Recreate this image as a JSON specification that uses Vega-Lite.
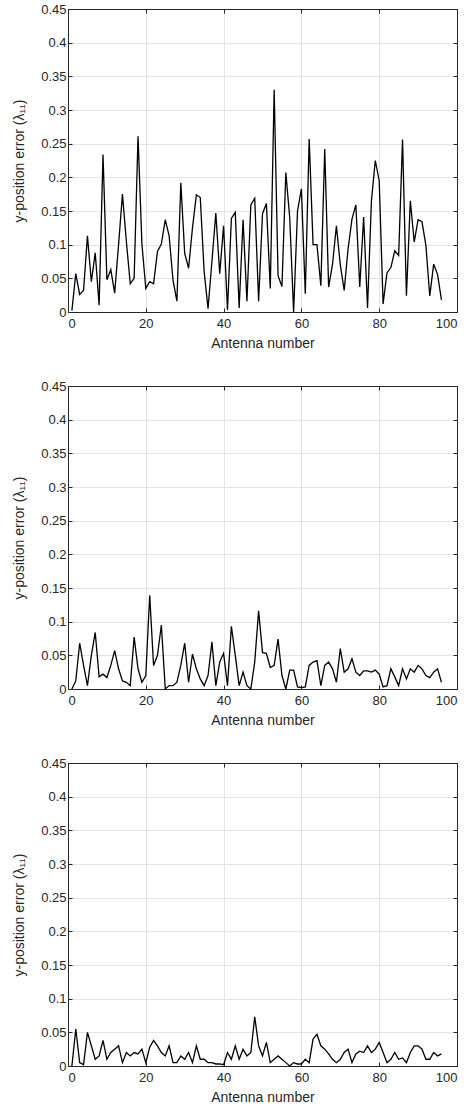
{
  "$schema": "https://vega.github.io/schema/vega-lite/v6.json",
  "padding": {"top": 3, "left": 12, "right": 2, "bottom": 2},
  "spacing": 30,
  "config": {
    "font": "Liberation Sans",
    "view": {"stroke": null},
    "axis": {
      "labelFont": "Liberation Sans",
      "titleFont": "Liberation Sans",
      "labelFontSize": 13,
      "titleFontSize": 14,
      "labelColor": "#262626",
      "titleColor": "#262626",
      "titleFontWeight": "normal",
      "domainColor": "#262626",
      "tickColor": "#262626",
      "gridColor": "#e3e3e3",
      "gridOpacity": 1,
      "tickSize": -4
    },
    "axisX": {"labelPadding": 9, "titlePadding": 6},
    "axisY": {"labelPadding": 6, "titlePadding": 14}
  },
  "datasets": {
    "d": [
      {"p":1,"x":1,"y":0.002},{"p":1,"x":2,"y":0.057},{"p":1,"x":3,"y":0.026},{"p":1,"x":4,"y":0.032},{"p":1,"x":5,"y":0.113},{"p":1,"x":6,"y":0.045},{"p":1,"x":7,"y":0.088},{"p":1,"x":8,"y":0.010},{"p":1,"x":9,"y":0.234},{"p":1,"x":10,"y":0.048},
      {"p":1,"x":11,"y":0.063},{"p":1,"x":12,"y":0.028},{"p":1,"x":13,"y":0.1},{"p":1,"x":14,"y":0.175},{"p":1,"x":15,"y":0.105},{"p":1,"x":16,"y":0.042},{"p":1,"x":17,"y":0.05},{"p":1,"x":18,"y":0.261},{"p":1,"x":19,"y":0.101},{"p":1,"x":20,"y":0.035},
      {"p":1,"x":21,"y":0.045},{"p":1,"x":22,"y":0.042},{"p":1,"x":23,"y":0.09},{"p":1,"x":24,"y":0.101},{"p":1,"x":25,"y":0.137},{"p":1,"x":26,"y":0.113},{"p":1,"x":27,"y":0.047},{"p":1,"x":28,"y":0.016},{"p":1,"x":29,"y":0.192},{"p":1,"x":30,"y":0.087},
      {"p":1,"x":31,"y":0.065},{"p":1,"x":32,"y":0.125},{"p":1,"x":33,"y":0.174},{"p":1,"x":34,"y":0.17},{"p":1,"x":35,"y":0.06},{"p":1,"x":36,"y":0.005},{"p":1,"x":37,"y":0.075},{"p":1,"x":38,"y":0.147},{"p":1,"x":39,"y":0.057},{"p":1,"x":40,"y":0.128},
      {"p":1,"x":41,"y":0.003},{"p":1,"x":42,"y":0.139},{"p":1,"x":43,"y":0.148},{"p":1,"x":44,"y":0.006},{"p":1,"x":45,"y":0.137},{"p":1,"x":46,"y":0.016},{"p":1,"x":47,"y":0.159},{"p":1,"x":48,"y":0.169},{"p":1,"x":49,"y":0.016},{"p":1,"x":50,"y":0.146},
      {"p":1,"x":51,"y":0.161},{"p":1,"x":52,"y":0.035},{"p":1,"x":53,"y":0.33},{"p":1,"x":54,"y":0.054},{"p":1,"x":55,"y":0.038},{"p":1,"x":56,"y":0.207},{"p":1,"x":57,"y":0.14},{"p":1,"x":58,"y":0.0},{"p":1,"x":59,"y":0.15},{"p":1,"x":60,"y":0.183},
      {"p":1,"x":61,"y":0.027},{"p":1,"x":62,"y":0.257},{"p":1,"x":63,"y":0.1},{"p":1,"x":64,"y":0.1},{"p":1,"x":65,"y":0.039},{"p":1,"x":66,"y":0.242},{"p":1,"x":67,"y":0.037},{"p":1,"x":68,"y":0.071},{"p":1,"x":69,"y":0.128},{"p":1,"x":70,"y":0.07},
      {"p":1,"x":71,"y":0.032},{"p":1,"x":72,"y":0.094},{"p":1,"x":73,"y":0.138},{"p":1,"x":74,"y":0.159},{"p":1,"x":75,"y":0.037},{"p":1,"x":76,"y":0.141},{"p":1,"x":77,"y":0.006},{"p":1,"x":78,"y":0.165},{"p":1,"x":79,"y":0.225},{"p":1,"x":80,"y":0.195},
      {"p":1,"x":81,"y":0.012},{"p":1,"x":82,"y":0.058},{"p":1,"x":83,"y":0.066},{"p":1,"x":84,"y":0.091},{"p":1,"x":85,"y":0.084},{"p":1,"x":86,"y":0.256},{"p":1,"x":87,"y":0.024},{"p":1,"x":88,"y":0.165},{"p":1,"x":89,"y":0.104},{"p":1,"x":90,"y":0.137},
      {"p":1,"x":91,"y":0.134},{"p":1,"x":92,"y":0.099},{"p":1,"x":93,"y":0.024},{"p":1,"x":94,"y":0.071},{"p":1,"x":95,"y":0.056},{"p":1,"x":96,"y":0.018},

      {"p":2,"x":1,"y":0.0},{"p":2,"x":2,"y":0.012},{"p":2,"x":3,"y":0.068},{"p":2,"x":4,"y":0.035},{"p":2,"x":5,"y":0.005},{"p":2,"x":6,"y":0.05},{"p":2,"x":7,"y":0.084},{"p":2,"x":8,"y":0.018},{"p":2,"x":9,"y":0.022},{"p":2,"x":10,"y":0.017},
      {"p":2,"x":11,"y":0.035},{"p":2,"x":12,"y":0.057},{"p":2,"x":13,"y":0.03},{"p":2,"x":14,"y":0.012},{"p":2,"x":15,"y":0.01},{"p":2,"x":16,"y":0.005},{"p":2,"x":17,"y":0.077},{"p":2,"x":18,"y":0.03},{"p":2,"x":19,"y":0.01},{"p":2,"x":20,"y":0.02},
      {"p":2,"x":21,"y":0.139},{"p":2,"x":22,"y":0.035},{"p":2,"x":23,"y":0.05},{"p":2,"x":24,"y":0.095},{"p":2,"x":25,"y":0.0},{"p":2,"x":26,"y":0.005},{"p":2,"x":27,"y":0.005},{"p":2,"x":28,"y":0.01},{"p":2,"x":29,"y":0.035},{"p":2,"x":30,"y":0.068},
      {"p":2,"x":31,"y":0.01},{"p":2,"x":32,"y":0.052},{"p":2,"x":33,"y":0.03},{"p":2,"x":34,"y":0.015},{"p":2,"x":35,"y":0.005},{"p":2,"x":36,"y":0.02},{"p":2,"x":37,"y":0.07},{"p":2,"x":38,"y":0.005},{"p":2,"x":39,"y":0.04},{"p":2,"x":40,"y":0.053},
      {"p":2,"x":41,"y":0.005},{"p":2,"x":42,"y":0.093},{"p":2,"x":43,"y":0.05},{"p":2,"x":44,"y":0.005},{"p":2,"x":45,"y":0.025},{"p":2,"x":46,"y":0.005},{"p":2,"x":47,"y":0.0},{"p":2,"x":48,"y":0.04},{"p":2,"x":49,"y":0.116},{"p":2,"x":50,"y":0.054},
      {"p":2,"x":51,"y":0.053},{"p":2,"x":52,"y":0.032},{"p":2,"x":53,"y":0.035},{"p":2,"x":54,"y":0.074},{"p":2,"x":55,"y":0.02},{"p":2,"x":56,"y":0.0},{"p":2,"x":57,"y":0.028},{"p":2,"x":58,"y":0.028},{"p":2,"x":59,"y":0.003},{"p":2,"x":60,"y":0.002},
      {"p":2,"x":61,"y":0.003},{"p":2,"x":62,"y":0.035},{"p":2,"x":63,"y":0.04},{"p":2,"x":64,"y":0.042},{"p":2,"x":65,"y":0.005},{"p":2,"x":66,"y":0.035},{"p":2,"x":67,"y":0.04},{"p":2,"x":68,"y":0.03},{"p":2,"x":69,"y":0.01},{"p":2,"x":70,"y":0.06},
      {"p":2,"x":71,"y":0.025},{"p":2,"x":72,"y":0.03},{"p":2,"x":73,"y":0.045},{"p":2,"x":74,"y":0.025},{"p":2,"x":75,"y":0.02},{"p":2,"x":76,"y":0.027},{"p":2,"x":77,"y":0.027},{"p":2,"x":78,"y":0.025},{"p":2,"x":79,"y":0.028},{"p":2,"x":80,"y":0.022},
      {"p":2,"x":81,"y":0.003},{"p":2,"x":82,"y":0.005},{"p":2,"x":83,"y":0.03},{"p":2,"x":84,"y":0.018},{"p":2,"x":85,"y":0.005},{"p":2,"x":86,"y":0.03},{"p":2,"x":87,"y":0.015},{"p":2,"x":88,"y":0.03},{"p":2,"x":89,"y":0.025},{"p":2,"x":90,"y":0.035},
      {"p":2,"x":91,"y":0.03},{"p":2,"x":92,"y":0.02},{"p":2,"x":93,"y":0.017},{"p":2,"x":94,"y":0.025},{"p":2,"x":95,"y":0.03},{"p":2,"x":96,"y":0.01},

      {"p":3,"x":1,"y":0.0},{"p":3,"x":2,"y":0.055},{"p":3,"x":3,"y":0.005},{"p":3,"x":4,"y":0.002},{"p":3,"x":5,"y":0.05},{"p":3,"x":6,"y":0.03},{"p":3,"x":7,"y":0.01},{"p":3,"x":8,"y":0.015},{"p":3,"x":9,"y":0.038},{"p":3,"x":10,"y":0.01},
      {"p":3,"x":11,"y":0.02},{"p":3,"x":12,"y":0.025},{"p":3,"x":13,"y":0.03},{"p":3,"x":14,"y":0.005},{"p":3,"x":15,"y":0.02},{"p":3,"x":16,"y":0.015},{"p":3,"x":17,"y":0.02},{"p":3,"x":18,"y":0.018},{"p":3,"x":19,"y":0.025},{"p":3,"x":20,"y":0.005},
      {"p":3,"x":21,"y":0.028},{"p":3,"x":22,"y":0.038},{"p":3,"x":23,"y":0.03},{"p":3,"x":24,"y":0.02},{"p":3,"x":25,"y":0.015},{"p":3,"x":26,"y":0.03},{"p":3,"x":27,"y":0.005},{"p":3,"x":28,"y":0.005},{"p":3,"x":29,"y":0.015},{"p":3,"x":30,"y":0.01},
      {"p":3,"x":31,"y":0.02},{"p":3,"x":32,"y":0.005},{"p":3,"x":33,"y":0.03},{"p":3,"x":34,"y":0.01},{"p":3,"x":35,"y":0.01},{"p":3,"x":36,"y":0.005},{"p":3,"x":37,"y":0.005},{"p":3,"x":38,"y":0.003},{"p":3,"x":39,"y":0.003},{"p":3,"x":40,"y":0.002},
      {"p":3,"x":41,"y":0.02},{"p":3,"x":42,"y":0.01},{"p":3,"x":43,"y":0.03},{"p":3,"x":44,"y":0.01},{"p":3,"x":45,"y":0.025},{"p":3,"x":46,"y":0.015},{"p":3,"x":47,"y":0.02},{"p":3,"x":48,"y":0.073},{"p":3,"x":49,"y":0.03},{"p":3,"x":50,"y":0.015},
      {"p":3,"x":51,"y":0.035},{"p":3,"x":52,"y":0.005},{"p":3,"x":53,"y":0.01},{"p":3,"x":54,"y":0.015},{"p":3,"x":55,"y":0.01},{"p":3,"x":56,"y":0.005},{"p":3,"x":57,"y":0.0},{"p":3,"x":58,"y":0.005},{"p":3,"x":59,"y":0.003},{"p":3,"x":60,"y":0.003},
      {"p":3,"x":61,"y":0.01},{"p":3,"x":62,"y":0.005},{"p":3,"x":63,"y":0.04},{"p":3,"x":64,"y":0.047},{"p":3,"x":65,"y":0.03},{"p":3,"x":66,"y":0.025},{"p":3,"x":67,"y":0.018},{"p":3,"x":68,"y":0.01},{"p":3,"x":69,"y":0.005},{"p":3,"x":70,"y":0.01},
      {"p":3,"x":71,"y":0.02},{"p":3,"x":72,"y":0.025},{"p":3,"x":73,"y":0.005},{"p":3,"x":74,"y":0.018},{"p":3,"x":75,"y":0.022},{"p":3,"x":76,"y":0.02},{"p":3,"x":77,"y":0.03},{"p":3,"x":78,"y":0.02},{"p":3,"x":79,"y":0.025},{"p":3,"x":80,"y":0.035},
      {"p":3,"x":81,"y":0.02},{"p":3,"x":82,"y":0.005},{"p":3,"x":83,"y":0.01},{"p":3,"x":84,"y":0.02},{"p":3,"x":85,"y":0.01},{"p":3,"x":86,"y":0.012},{"p":3,"x":87,"y":0.005},{"p":3,"x":88,"y":0.02},{"p":3,"x":89,"y":0.03},{"p":3,"x":90,"y":0.03},
      {"p":3,"x":91,"y":0.025},{"p":3,"x":92,"y":0.01},{"p":3,"x":93,"y":0.01},{"p":3,"x":94,"y":0.02},{"p":3,"x":95,"y":0.015},{"p":3,"x":96,"y":0.018}
    ]
  },
  "data": {"name": "d"},
  "vconcat": [
    {
      "width": 389, "height": 303,
      "transform": [{"filter": "datum.p == 1"}],
      "layer": [
        {
          "mark": {"type": "line", "color": "black", "strokeWidth": 1.3},
          "encoding": {
            "x": {"field": "x", "type": "quantitative", "scale": {"domain": [0, 100], "nice": false}, "axis": {"values": [0,20,40,60,80,100], "title": "Antenna number"}},
            "y": {"field": "y", "type": "quantitative", "scale": {"domain": [0, 0.45], "nice": false}, "axis": {"values": [0,0.05,0.1,0.15,0.2,0.25,0.3,0.35,0.4,0.45], "format": "~g", "title": "y-position error (λ₁₁)"}}
          }
        },
        {
          "mark": {"type": "line", "opacity": 0},
          "encoding": {
            "x": {"field": "x", "type": "quantitative", "axis": {"orient": "top", "values": [0,20,40,60,80,100], "labels": false, "grid": false, "title": null}},
            "y": {"field": "y", "type": "quantitative", "axis": {"orient": "right", "values": [0,0.05,0.1,0.15,0.2,0.25,0.3,0.35,0.4,0.45], "labels": false, "grid": false, "title": null}}
          }
        }
      ],
      "resolve": {"axis": {"x": "independent", "y": "independent"}}
    },
    {
      "width": 389, "height": 303,
      "transform": [{"filter": "datum.p == 2"}],
      "layer": [
        {
          "mark": {"type": "line", "color": "black", "strokeWidth": 1.3},
          "encoding": {
            "x": {"field": "x", "type": "quantitative", "scale": {"domain": [0, 100], "nice": false}, "axis": {"values": [0,20,40,60,80,100], "title": "Antenna number"}},
            "y": {"field": "y", "type": "quantitative", "scale": {"domain": [0, 0.45], "nice": false}, "axis": {"values": [0,0.05,0.1,0.15,0.2,0.25,0.3,0.35,0.4,0.45], "format": "~g", "title": "y-position error (λ₁₁)"}}
          }
        },
        {
          "mark": {"type": "line", "opacity": 0},
          "encoding": {
            "x": {"field": "x", "type": "quantitative", "axis": {"orient": "top", "values": [0,20,40,60,80,100], "labels": false, "grid": false, "title": null}},
            "y": {"field": "y", "type": "quantitative", "axis": {"orient": "right", "values": [0,0.05,0.1,0.15,0.2,0.25,0.3,0.35,0.4,0.45], "labels": false, "grid": false, "title": null}}
          }
        }
      ],
      "resolve": {"axis": {"x": "independent", "y": "independent"}}
    },
    {
      "width": 389, "height": 303,
      "transform": [{"filter": "datum.p == 3"}],
      "layer": [
        {
          "mark": {"type": "line", "color": "black", "strokeWidth": 1.3},
          "encoding": {
            "x": {"field": "x", "type": "quantitative", "scale": {"domain": [0, 100], "nice": false}, "axis": {"values": [0,20,40,60,80,100], "title": "Antenna number"}},
            "y": {"field": "y", "type": "quantitative", "scale": {"domain": [0, 0.45], "nice": false}, "axis": {"values": [0,0.05,0.1,0.15,0.2,0.25,0.3,0.35,0.4,0.45], "format": "~g", "title": "y-position error (λ₁₁)"}}
          }
        },
        {
          "mark": {"type": "line", "opacity": 0},
          "encoding": {
            "x": {"field": "x", "type": "quantitative", "axis": {"orient": "top", "values": [0,20,40,60,80,100], "labels": false, "grid": false, "title": null}},
            "y": {"field": "y", "type": "quantitative", "axis": {"orient": "right", "values": [0,0.05,0.1,0.15,0.2,0.25,0.3,0.35,0.4,0.45], "labels": false, "grid": false, "title": null}}
          }
        }
      ],
      "resolve": {"axis": {"x": "independent", "y": "independent"}}
    }
  ]
}
